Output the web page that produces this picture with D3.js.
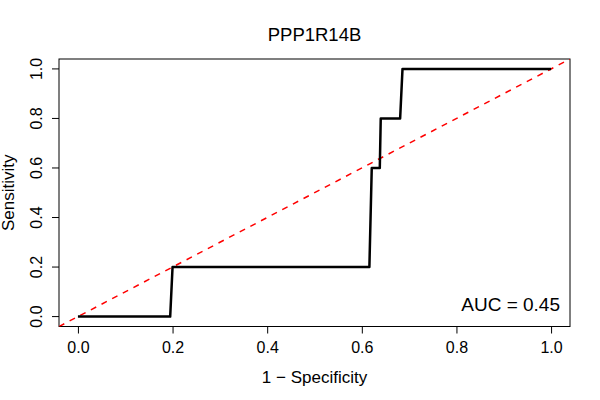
<!DOCTYPE html>
<html>
<head>
<meta charset="utf-8">
<script src="https://cdn.jsdelivr.net/npm/d3@7"></script>
<style>
  body { margin: 0; background: #fff; }
  text { font-family: "Liberation Sans", Arial, sans-serif; fill: #000; }
</style>
</head>
<body>
<svg width="600" height="400"></svg>
<script>
// ROC curve points (1 - specificity, sensitivity)
const fpr = [0, 0.195, 0.2, 0.616, 0.621, 0.638, 0.640, 0.681, 0.686, 1.0];
const tpr = [0, 0, 0.2, 0.2, 0.6, 0.6, 0.8, 0.8, 1.0, 1.0];
const xTicks = [0, 0.2, 0.4, 0.6, 0.8, 1.0];
const yTicks = [0, 0.2, 0.4, 0.6, 0.8, 1.0];
const chartTitle = "PPP1R14B";
const aucLabel = "AUC = 0.45";

const svg = d3.select("svg");
const box = {left: 59, right: 570, top: 59, bottom: 326.5};

const x = d3.scaleLinear().domain([-0.04, 1.04]).range([box.left, box.right]);
const y = d3.scaleLinear().domain([-0.04, 1.04]).range([box.bottom, box.top]);

svg.append("defs").append("clipPath").attr("id", "clip")
  .append("rect")
  .attr("x", box.left).attr("y", box.top)
  .attr("width", box.right - box.left).attr("height", box.bottom - box.top);

// x axis
const xAxis = svg.append("g")
  .attr("transform", `translate(0,${box.bottom})`)
  .call(d3.axisBottom(x).tickValues(xTicks).tickFormat(d3.format(".1f")).tickSize(7).tickSizeOuter(0));
xAxis.select(".domain").remove();
xAxis.selectAll("text")
  .style("font-size", "16px")
  .attr("y", 26.5).attr("dy", null);

// y axis
const yAxis = svg.append("g")
  .attr("transform", `translate(${box.left},0)`)
  .call(d3.axisLeft(y).tickValues(yTicks).tickFormat(d3.format(".1f")).tickSize(7).tickSizeOuter(0));
yAxis.select(".domain").remove();
yAxis.selectAll(".tick").attr("transform", null);
yAxis.selectAll(".tick line").attr("transform", d => `translate(0,${y(d)})`);
yAxis.selectAll("text")
  .style("font-size", "16px")
  .attr("text-anchor", "middle")
  .attr("x", 0).attr("y", 0).attr("dy", null)
  .attr("transform", d => `translate(${42 - box.left},${y(d)}) rotate(-90)`);

// box
svg.append("rect")
  .attr("x", box.left).attr("y", box.top)
  .attr("width", box.right - box.left).attr("height", box.bottom - box.top)
  .attr("fill", "none").attr("stroke", "#000").attr("stroke-width", 1);

// diagonal reference line
svg.append("line")
  .attr("clip-path", "url(#clip)")
  .attr("x1", x(-0.04)).attr("y1", y(-0.04))
  .attr("x2", x(1.04)).attr("y2", y(1.04))
  .attr("stroke", "#ff0000").attr("stroke-width", 1.5)
  .attr("stroke-dasharray", "6,6");

// ROC curve
const line = d3.line().x((d, i) => x(fpr[i])).y((d, i) => y(tpr[i]));
svg.append("path")
  .datum(fpr)
  .attr("d", line)
  .attr("fill", "none").attr("stroke", "#000").attr("stroke-width", 2.5)
  .attr("stroke-linejoin", "round");

// titles
svg.append("text").attr("x", (box.left + box.right) / 2).attr("y", 41)
  .attr("text-anchor", "middle").style("font-size", "18.5px").text(chartTitle);
svg.append("text").attr("x", (box.left + box.right) / 2).attr("y", 383)
  .attr("text-anchor", "middle").style("font-size", "17px").text("1 \u2212 Specificity");
svg.append("text").attr("transform", `translate(13.5,${(box.top + box.bottom) / 2}) rotate(-90)`)
  .attr("text-anchor", "middle").style("font-size", "17px").text("Sensitivity");
svg.append("text").attr("x", 560).attr("y", 311)
  .attr("text-anchor", "end").style("font-size", "19px").text(aucLabel);
</script>
</body>
</html>
